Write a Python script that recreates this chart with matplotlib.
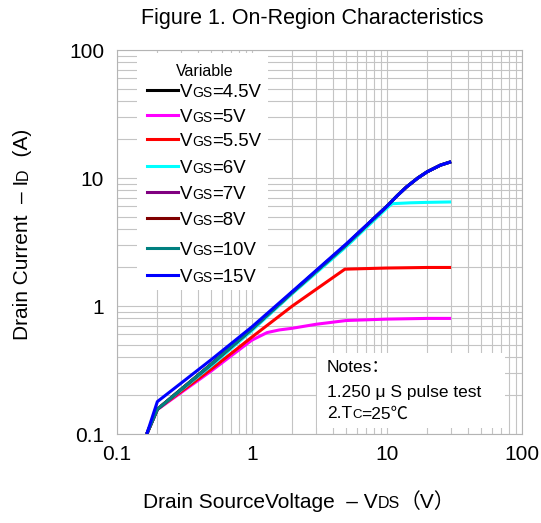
"""
On-region characteristics (ID vs VDS), log-log
"""
import matplotlib
matplotlib.use('Agg')
import matplotlib.pyplot as plt
from matplotlib.patches import Rectangle
from matplotlib.lines import Line2D
from matplotlib.ticker import LogLocator, FixedLocator, FixedFormatter, NullFormatter

plt.rcParams['font.family'] = ['Liberation Sans', 'Noto Sans CJK SC']

## data
vgs_labels = ['4.5V', '5V', '5.5V', '6V', '7V', '8V', '10V', '15V']
line_colors = ['#000000', '#ff00ff', '#ff0000', '#00ffff', '#800080', '#800000', '#008080', '#0000ff']

vds_low = [0.167, 0.2, 0.5, 1, 2, 5, 10, 12, 14, 17, 20, 25, 30]
id_low = [0.1, 0.156, 0.35, 0.66, 1.28, 3.0, 6.0, 7.3, 8.5, 10.0, 11.2, 12.6, 13.4]   # 4.5,7,8,10V
id_15v = [0.1, 0.179, 0.38, 0.685, 1.3, 3.05, 6.0, 7.3, 8.5, 10.0, 11.2, 12.6, 13.4]

vds_6v = [0.167, 0.2, 0.5, 1, 2, 5, 10, 11, 15, 20, 30]
id_6v = [0.1, 0.156, 0.34, 0.64, 1.25, 2.9, 5.8, 6.3, 6.4, 6.45, 6.5]

vds_55v = [0.167, 0.2, 0.5, 1, 2, 4.9, 10, 20, 30]
id_55v = [0.1, 0.156, 0.32, 0.57, 1.0, 1.94, 1.98, 2.0, 2.0]

vds_5v = [0.167, 0.2, 0.5, 1, 1.3, 1.6, 2, 3, 5, 10, 20, 30]
id_5v = [0.1, 0.155, 0.31, 0.54, 0.62, 0.65, 0.67, 0.72, 0.77, 0.79, 0.80, 0.80]

series = [(vds_low, id_low), (vds_5v, id_5v), (vds_55v, id_55v), (vds_6v, id_6v),
          (vds_low, id_low), (vds_low, id_low), (vds_low, id_low), (vds_low, id_15v)]

decade_ticks = [0.1, 1, 10, 100]
decade_labels = ['0.1', '1', '10', '100']

W, H = 541, 523
fig = plt.figure(figsize=(W / 100, H / 100), dpi=100)
ax = fig.add_axes([116.7 / W, 1 - 434 / H, 405 / W, 384 / H])
renderer = fig.canvas.get_renderer()


def fxy(x, y):
    # pixel position (from top-left) -> figure fraction
    return x / W, 1 - y / H


def chain_text(x, y, parts, rotation=0):
    # pieces of text of different size on one baseline (for the small subscripts)
    pos = 0
    for s, fs in parts:
        if rotation:
            t = fig.text(*fxy(x, y - pos), s, fontsize=fs, rotation=90, rotation_mode='anchor',
                         ha='left', va='baseline')
            pos += t.get_window_extent(renderer).height
        else:
            t = fig.text(*fxy(x + pos, y), s, fontsize=fs, ha='left', va='baseline')
            pos += t.get_window_extent(renderer).width


for (xs, ys), c in zip(series, line_colors):
    ax.plot(xs, ys, color=c, lw=2.2, zorder=4, solid_capstyle='butt')

ax.set_xscale('log')
ax.set_yscale('log')
ax.set_xlim(0.1, 100)
ax.set_ylim(0.1, 100)
for axis in (ax.xaxis, ax.yaxis):
    axis.set_major_locator(FixedLocator(decade_ticks))
    axis.set_major_formatter(FixedFormatter(decade_labels))
    axis.set_minor_locator(LogLocator(base=10, subs=range(2, 10)))
    axis.set_minor_formatter(NullFormatter())
ax.tick_params(which='both', length=0, labelsize=15)
ax.tick_params(axis='x', pad=8)
ax.tick_params(axis='y', pad=9)
ax.grid(which='both', color='#c4c4c4', lw=0.8)
ax.set_axisbelow(True)
for sp in ax.spines.values():
    sp.set_color('#b4b4b4')
    sp.set_linewidth(0.8)

# legend, drawn by hand
ax.add_patch(Rectangle(fxy(137, 290), 131 / W, 237 / H, transform=fig.transFigure,
                       facecolor='white', edgecolor='none', zorder=3))
fig.text(*fxy(205, 75.7), 'Variable', fontsize=11.5, ha='center', va='baseline', zorder=5)
leg_y = [90, 115, 139, 166, 192, 218, 248, 275]
for lab, c, ly in zip(vgs_labels, line_colors, leg_y):
    x0, y0 = fxy(146.7, ly)
    x1, _ = fxy(178, ly)
    fig.add_artist(Line2D([x0, x1], [y0, y0], color=c, lw=2.2, transform=fig.transFigure))
    chain_text(180, ly + 6.7, [('V', 13.4), ('GS', 10), ('=' + lab, 13.4)])

# notes box
ax.add_patch(Rectangle(fxy(317, 428), 188 / W, 75 / H, transform=fig.transFigure,
                       facecolor='white', edgecolor='none', zorder=3))
fig.text(*fxy(327, 371.7), 'Notes：', fontsize=12.5, va='baseline')
fig.text(*fxy(327, 396.7), '1.250 μ S pulse test', fontsize=12.5, va='baseline')
chain_text(327, 418.3, [('2.T', 12.5), ('C', 9.5), ('=25℃', 12.5)])

# title and axis labels
fig.text(*fxy(312, 24), 'Figure 1. On-Region Characteristics', fontsize=15.5, ha='center', va='baseline')
chain_text(143, 508, [('Drain SourceVoltage  – V', 15), ('DS', 11.5), ('（V）', 15)])
# ascii brackets here: the wide CJK ones land off the baseline when turned
chain_text(28, 340, [('Drain Current  – I', 15), ('D', 11.5), ('  (A)', 15)], rotation=90)

fig.savefig('out.png', dpi=100)
